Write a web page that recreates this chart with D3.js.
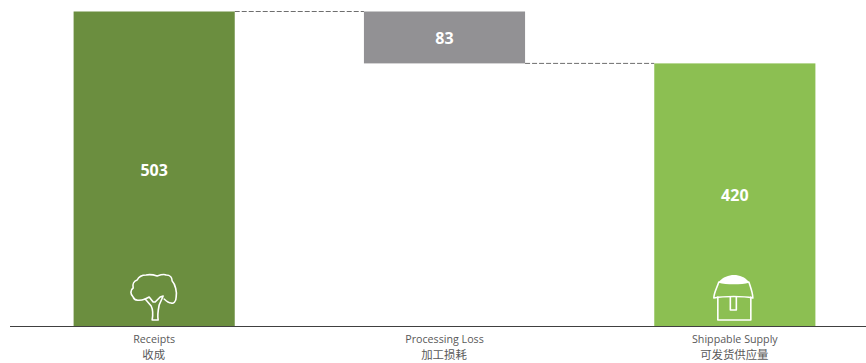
<!DOCTYPE html>
<html>
<head>
<meta charset="utf-8">
<style>
html, body { margin: 0; padding: 0; background: #fff; }
svg { display: block; }
.axis .domain { stroke: #404040; stroke-width: 1.2; }
.axis text { font-family: "Open Sans", "Noto Sans CJK SC", sans-serif; font-size: 10.7px; fill: #595959; }
.value { font-family: "Open Sans", sans-serif; font-size: 16px; font-weight: 700; fill: #fff; text-anchor: middle; }
</style>
</head>
<body>
<svg width="866" height="363"></svg>
<script src="https://cdn.jsdelivr.net/npm/d3@7"></script>
<script>

var categories = ["Receipts", "Processing Loss", "Shippable Supply"];
var categoriesCn = ["收成", "加工损耗", "可发货供应量"];
var starts = [0, 420, 0];
var values = [503, 83, 420];
var colors = ["#6b8e3f", "#929194", "#8cbf52"];

var svg = d3.select("svg"),
    baseline = 326;

var x = d3.scaleBand()
    .domain(categories)
    .range([9, 880])
    .paddingInner(0.445)
    .paddingOuter(0.2225);

var y = d3.scaleLinear()
    .domain([0, 503])
    .range([baseline, 11.5]);

// dashed connectors between the bars
var connectors = [[0, 1, 503], [1, 2, 420]];
svg.append("g")
  .selectAll("line")
  .data(connectors)
  .enter().append("line")
    .attr("x1", function(d) { return x(categories[d[0]]) + x.bandwidth(); })
    .attr("x2", function(d) { return x(categories[d[1]]); })
    .attr("y1", function(d) { return y(d[2]); })
    .attr("y2", function(d) { return y(d[2]); })
    .attr("stroke", "#6e6e6e")
    .attr("stroke-width", 1)
    .attr("stroke-dasharray", "5,2");

svg.append("g")
  .selectAll("rect")
  .data(categories)
  .enter().append("rect")
    .attr("x", function(d) { return x(d); })
    .attr("y", function(d, i) { return y(starts[i] + values[i]); })
    .attr("width", x.bandwidth())
    .attr("height", function(d, i) { return y(starts[i]) - y(starts[i] + values[i]); })
    .attr("fill", function(d, i) { return colors[i]; });

svg.append("g")
  .selectAll("text")
  .data(categories)
  .enter().append("text")
    .attr("class", "value")
    .attr("x", function(d) { return x(d) + x.bandwidth() / 2; })
    .attr("y", function(d, i) { return y(starts[i] + values[i] / 2) + 1; })
    .attr("dy", "0.36em")
    .text(function(d, i) { return values[i]; });

// axis, with a second line of Chinese under each label
var axis = svg.append("g")
    .attr("class", "axis")
    .attr("transform", "translate(0," + baseline + ")")
    .call(d3.axisBottom(x).tickSize(0).tickPadding(0));

axis.select(".domain").attr("d", "M10,0.5H866");

axis.selectAll(".tick text").each(function(d, i) {
  var t = d3.select(this).text(null).attr("y", 0).attr("dy", null);
  t.append("tspan").attr("x", 0).attr("y", 17).text(d);
  t.append("tspan").attr("x", -0.5).attr("y", 33).text(categoriesCn[i])
    .style("font-family", '"Noto Sans CJK SC", sans-serif')
    .style("font-size", "11.4px");
});

// icons, drawn around the centre of their bars
var icons = svg.append("g")
    .attr("fill", "none")
    .attr("stroke", "#fff")
    .attr("stroke-width", 1.6)
    .attr("stroke-linejoin", "round")
    .attr("stroke-linecap", "round");

var tree = icons.append("g")
    .attr("transform", "translate(" + (x(categories[0]) + x.bandwidth() / 2) + "," + (baseline - 18) + ")");
tree.append("path")
    .attr("d", "M-9,-9C-14,-7 -20,-7 -21,-11C-24,-14 -24,-18 -21,-20C-22,-24 -20,-27 -17,-28C-15,-32 -11,-33 -8,-33C-4,-34 0,-33 3,-32C6,-33 10,-34 12,-33C16,-33 18,-30 18,-27C21,-24 23,-16 22,-11C22,-6 19,-4 17,-5C14,-5 12,-7 10,-9");
tree.append("path")
    .attr("d", "M-2,12C-1,6 -1,2 -3,-2L-9,-9L-5,-11L-1,-6L1,-6L6,-11L9,-12L5,-3C4,2 3,7 4,12Z");

var house = icons.append("g")
    .attr("transform", "translate(" + (x(categories[2]) + x.bandwidth() / 2) + "," + (baseline - 18) + ")");
house.append("path")
    .attr("d", "M-16,-26C-18,-20 -21,-15 -21,-10C-10,-12 8,-12 18,-10C18,-15 16,-20 14,-26C6,-24 -8,-24 -16,-26Z");
house.append("path")
    .attr("d", "M-17,-11V12H16V-11M-4.5,-11V2H1.5V-11");
house.append("path")
    .attr("d", "M-16,-26C-12,-31 -6,-33 -1,-33C5,-33 10,-31 14,-26C6,-24 -8,-24 -16,-26Z")
    .attr("fill", "#fff")
    .attr("stroke", "none");

</script>
</body>
</html>
